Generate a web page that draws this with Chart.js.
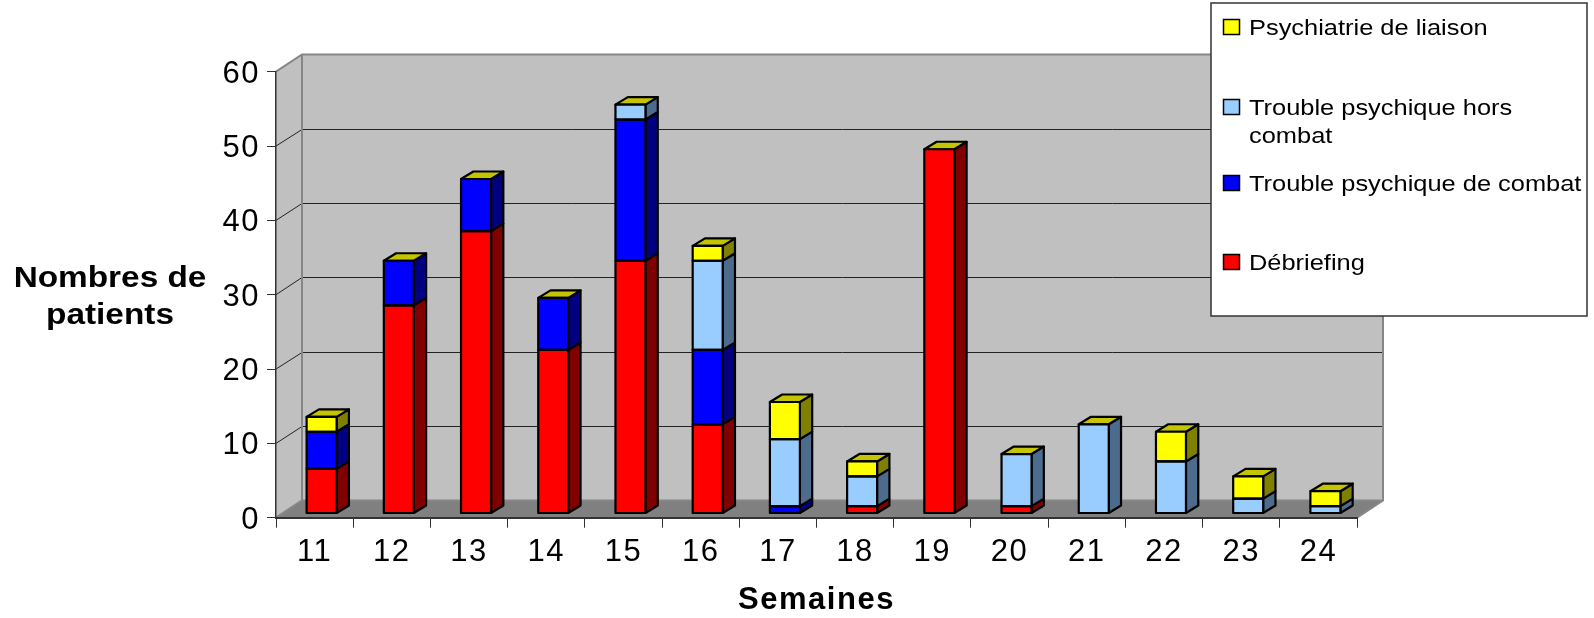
<!DOCTYPE html>
<html>
<head>
<meta charset="utf-8">
<title>Nombres de patients par semaine</title>
<script src="https://cdn.jsdelivr.net/npm/chart.js@4"></script>
<style>
  html, body { margin: 0; padding: 0; background: #fff; }
  canvas { display: block; }
</style>
</head>
<body>
<canvas id="barChart" width="1594" height="618"></canvas>
<script>
const weeks = ['11', '12', '13', '14', '15', '16', '17', '18', '19', '20', '21', '22', '23', '24'];
const debriefing = [6, 28, 38, 22, 34, 12, 0, 1, 49, 1, 0, 0, 0, 0];
const troubleCombat = [5, 6, 7, 7, 19, 10, 1, 0, 0, 0, 0, 0, 0, 0];
const troubleHorsCombat = [0, 0, 0, 0, 2, 12, 9, 4, 0, 7, 12, 7, 2, 1];
const psychiatrieLiaison = [2, 0, 0, 0, 0, 2, 5, 2, 0, 0, 0, 4, 3, 2];

const yTitleLines = ['Nombres de', 'patients'];
const xTitle = 'Semaines';

// depth of the fake 3D box and of the bars
const wallDx = 26, wallDy = 17.3;
const barDx = 12.3, barDy = 7.5;
const barShiftX = 7, barShiftY = -4.2;
const capColor = '#c4c400';

// text in the reference is a bit wider than the font
function wideText(ctx, str, x, y, stretch) {
    ctx.save();
    ctx.letterSpacing = '0px';
    ctx.translate(x, y);
    ctx.scale(stretch, 1);
    ctx.fillText(str, 0, 0);
    ctx.restore();
}

function poly(ctx, pts, fill, stroke, lineWidth) {
    ctx.beginPath();
    pts.forEach((p, i) => i ? ctx.lineTo(p[0], p[1]) : ctx.moveTo(p[0], p[1]));
    ctx.closePath();
    if (fill) { ctx.fillStyle = fill; ctx.fill(); }
    if (stroke) { ctx.strokeStyle = stroke; ctx.lineWidth = lineWidth; ctx.stroke(); }
}

const wallsPlugin = {
    id: 'walls',
    beforeDraw(chart) {
        const ctx = chart.ctx;
        const { left, right, top, bottom } = chart.chartArea;
        ctx.save();
        ctx.letterSpacing = '0px';
        // floor, side wall, back wall
        poly(ctx, [[left, bottom], [left + wallDx, bottom - wallDy], [right + wallDx, bottom - wallDy], [right, bottom]], '#808080');
        poly(ctx, [[left, top], [left + wallDx, top - wallDy], [left + wallDx, bottom - wallDy], [left, bottom]], '#c0c0c0');
        poly(ctx, [[left + wallDx, top - wallDy], [right + wallDx, top - wallDy], [right + wallDx, bottom - wallDy], [left + wallDx, bottom - wallDy]], '#c0c0c0');
        // grid lines run along side wall and back wall
        chart.scales.y.ticks.forEach(t => {
            if (t.value === 0 || t.value === 60) return;
            const y = chart.scales.y.getPixelForValue(t.value);
            const backY = Math.round(y - wallDy) + 0.5;
            ctx.beginPath();
            ctx.moveTo(left, y);
            ctx.lineTo(left + wallDx, backY);
            ctx.lineTo(right + wallDx, backY);
            ctx.strokeStyle = '#222';
            ctx.lineWidth = 1;
            ctx.stroke();
        });
        // wall edges
        ctx.beginPath();
        ctx.moveTo(left, top);
        ctx.lineTo(left + wallDx, top - wallDy);
        ctx.lineTo(right + wallDx, top - wallDy);
        ctx.lineTo(right + wallDx, bottom - wallDy);
        ctx.lineTo(right, bottom);
        ctx.moveTo(left + wallDx, top - wallDy);
        ctx.lineTo(left + wallDx, bottom - wallDy);
        ctx.lineTo(right + wallDx, bottom - wallDy);
        ctx.moveTo(left + wallDx, bottom - wallDy);
        ctx.lineTo(left, bottom);
        ctx.strokeStyle = '#868686';
        ctx.lineWidth = 2;
        ctx.stroke();
        ctx.restore();
    },
    beforeDatasetsDraw(chart) {
        const ctx = chart.ctx;
        ctx.save();
        ctx.translate(barShiftX, barShiftY);
        ctx.lineJoin = 'round';
        const last = chart.data.datasets.length - 1;
        chart.data.datasets.forEach((ds, d) => {
            chart.getDatasetMeta(d).data.forEach((bar, i) => {
                if (!ds.data[i]) return;
                const r = bar.x + bar.width / 2;
                poly(ctx, [[r, bar.base], [r + barDx, bar.base - barDy], [r + barDx, bar.y - barDy], [r, bar.y]], ds.sideColor, '#000', 2.2);
            });
        });
        // the cap always belongs to the top series, even when its value is 0
        chart.getDatasetMeta(last).data.forEach(bar => {
            const l = bar.x - bar.width / 2, r = bar.x + bar.width / 2;
            poly(ctx, [[l, bar.y], [l + barDx, bar.y - barDy], [r + barDx, bar.y - barDy], [r, bar.y]], capColor, '#000', 2.2);
        });
    },
    afterDatasetsDraw(chart) {
        const ctx = chart.ctx;
        // outlines go here so that stacked segments share one line
        chart.data.datasets.forEach((ds, d) => {
            chart.getDatasetMeta(d).data.forEach((bar, i) => {
                if (!ds.data[i]) return;
                ctx.strokeStyle = '#000';
                ctx.lineWidth = 2.2;
                ctx.strokeRect(bar.x - bar.width / 2, bar.y, bar.width, bar.base - bar.y);
            });
        });
        ctx.restore();
    },
    afterDraw(chart) {
        const ctx = chart.ctx;
        ctx.save();
        ctx.letterSpacing = '0px';
        ctx.fillStyle = '#000';
        ctx.textAlign = 'center';
        ctx.textBaseline = 'alphabetic';
        ctx.font = 'bold 29px "Liberation Sans", Arial, sans-serif';
        yTitleLines.forEach((line, i) => wideText(ctx, line, 110, 287 + i * 37, 1.15));

        // legend box, top series first
        ctx.fillStyle = '#fff';
        ctx.fillRect(1211, 3, 376, 313);
        ctx.strokeStyle = '#333';
        ctx.lineWidth = 1.5;
        ctx.strokeRect(1211, 3, 376, 313);
        const rowY = [27, 107, 183, 262];
        ctx.textAlign = 'left';
        ctx.font = '22px "Liberation Sans", Arial, sans-serif';
        chart.data.datasets.slice().reverse().forEach((ds, i) => {
            const y = rowY[i];
            ctx.fillStyle = ds.backgroundColor;
            ctx.fillRect(1223.5, y - 7.5, 16, 15);
            ctx.strokeStyle = '#000';
            ctx.lineWidth = 1.5;
            ctx.strokeRect(1223.5, y - 7.5, 16, 15);
            ctx.fillStyle = '#000';
            const words = ds.label.split(' ');
            if (ctx.measureText(ds.label).width * 1.155 > 345) {
                wideText(ctx, words.slice(0, -1).join(' '), 1249, y + 8, 1.155);
                wideText(ctx, words[words.length - 1], 1249, y + 36, 1.155);
            } else {
                wideText(ctx, ds.label, 1249, y + 8, 1.155);
            }
        });
        ctx.restore();
    }
};

new Chart(document.getElementById('barChart'), {
    type: 'bar',
    data: {
        labels: weeks,
        datasets: [
            { label: 'Débriefing', data: debriefing, backgroundColor: '#ff0000', sideColor: '#800000' },
            { label: 'Trouble psychique de combat', data: troubleCombat, backgroundColor: '#0000ff', sideColor: '#000080' },
            { label: 'Trouble psychique hors combat', data: troubleHorsCombat, backgroundColor: '#99ccff', sideColor: '#4d6b8c' },
            { label: 'Psychiatrie de liaison', data: psychiatrieLiaison, backgroundColor: '#ffff00', sideColor: '#808000' }
        ].map(ds => Object.assign(ds, {
            borderWidth: 0,
            barThickness: 30,
            clip: false
        }))
    },
    plugins: [wallsPlugin, {
        id: 'spacing',
        beforeDraw(chart) { chart.ctx.letterSpacing = '1.5px'; }
    }],
    options: {
        responsive: false,
        animation: false,
        devicePixelRatio: 1,
        layout: { padding: { left: 0, top: 71.7, right: 237, bottom: 0 } },
        plugins: { legend: { display: false }, tooltip: { enabled: false } },
        scales: {
            x: {
                stacked: true,
                afterFit(scale) { scale.height = 100.3; },
                grid: { drawOnChartArea: false, tickLength: 10, color: '#333' },
                border: { color: '#333', width: 2 },
                ticks: { color: '#000', padding: 6, maxRotation: 0, font: { family: '"Liberation Sans", Arial, sans-serif', size: 31 } },
                title: {
                    display: true,
                    text: xTitle,
                    color: '#000',
                    padding: 0,
                    font: { family: '"Liberation Sans", Arial, sans-serif', size: 31, weight: 'bold', lineHeight: 1.1 }
                }
            },
            y: {
                stacked: true,
                min: 0,
                max: 60,
                afterFit(scale) { scale.width = 276; },
                grid: { drawOnChartArea: false, tickLength: 9, color: '#333' },
                border: { color: '#333', width: 1.5 },
                ticks: {
                    color: '#000',
                    stepSize: 10,
                    padding: 7,
                    // empty first line pushes the number down a little
                    callback: value => ['', String(value)],
                    font: { family: '"Liberation Sans", Arial, sans-serif', size: 31, lineHeight: '5px' }
                }
            }
        }
    }
});
</script>
</body>
</html>
